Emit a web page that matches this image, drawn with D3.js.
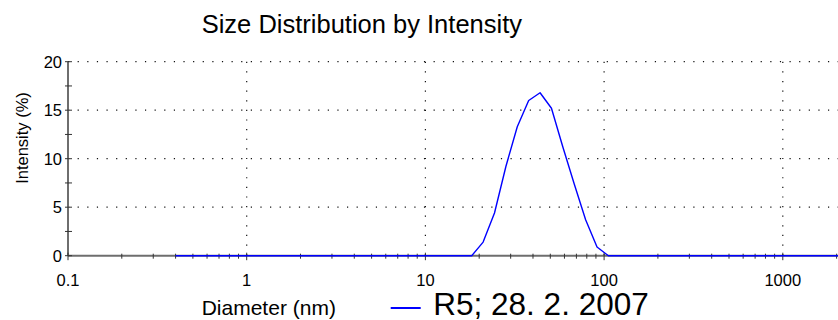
<!DOCTYPE html>
<html>
<head>
<meta charset="utf-8">
<script src="https://cdn.jsdelivr.net/npm/d3@7"></script>
<style>
  html, body { margin: 0; padding: 0; background: #fff; }
  svg { display: block; font-family: "Liberation Sans", Arial, sans-serif; }
</style>
</head>
<body>
<svg id="chart" width="838" height="320"></svg>
<script>
// Size classes (nm) of the DLS measurement
const sizes = [
  0.4, 0.4632, 0.5365, 0.6213, 0.7195, 0.8332, 0.9649, 1.117, 1.294, 1.499,
  1.736, 2.01, 2.328, 2.696, 3.122, 3.615, 4.187, 4.849, 5.615, 6.503,
  7.531, 8.721, 10.1, 11.7, 13.54, 15.69, 18.17, 21.04, 24.36, 28.21,
  32.67, 37.84, 43.82, 50.75, 58.77, 68.06, 78.82, 91.28, 105.7, 122.4,
  141.8, 164.2, 190.1, 220.2, 255.0, 295.3, 342.0, 396.1, 458.7, 531.2,
  615.1, 712.4, 825.0, 955.4, 1106, 1281, 1484, 1718, 1990, 2305,
  2669, 3091, 3580, 4145, 4801, 5560, 6439, 7456, 8635, 10000
];
// Intensity (%) per size class
const intensity = [
  0, 0, 0, 0, 0, 0, 0, 0, 0, 0,
  0, 0, 0, 0, 0, 0, 0, 0, 0, 0,
  0, 0, 0, 0, 0, 0, 0, 1.4, 4.4, 9.2,
  13.3, 16.0, 16.8, 15.2, 11.2, 7.4, 3.7, 0.9, 0, 0,
  0, 0, 0, 0, 0, 0, 0, 0, 0, 0,
  0, 0, 0, 0, 0, 0, 0, 0, 0, 0,
  0, 0, 0, 0, 0, 0, 0, 0, 0, 0
];
const xTickValues = [0.1, 1, 10, 100, 1000];
const xTickLabels = ["0.1", "1", "10", "100", "1000"];
const yTickValues = [0, 5, 10, 15, 20];
const seriesName = "R5; 28. 2. 2007";
const titleText = "Size Distribution by Intensity";
const xLabel = "Diameter (nm)";
const yLabel = "Intensity (%)";

const svg = d3.select("#chart");
const x = d3.scaleLog().domain([0.1, 10000]).range([68, 68 + 5 * 178.7]);
const y = d3.scaleLinear().domain([0, 20]).range([255.7, 61.7]);

// minor ticks: 2..9 within every decade
const xMinor = [];
for (let p = -1; p < 4; p++) {
  for (let m = 2; m <= 9; m++) xMinor.push(+(m * Math.pow(10, p)).toPrecision(3));
}
const yMinor = d3.range(0, 20.01, 2.5).filter(v => v % 5 !== 0);

// dotted grid
const grid = svg.append("g").attr("stroke", "#111").attr("stroke-width", 1.2)
  .attr("stroke-dasharray", "1.2 8.42").attr("fill", "none");
grid.selectAll("line.h").data(yTickValues.filter(v => v > 0)).join("line")
  .attr("class", "h")
  .attr("x1", x(0.1)).attr("x2", 838)
  .attr("y1", d => y(d)).attr("y2", d => y(d));
grid.selectAll("line.v").data(xTickValues.filter(v => v > 0.1)).join("line")
  .attr("class", "v")
  .attr("x1", d => x(d)).attr("x2", d => x(d))
  .attr("y1", y(20)).attr("y2", y(0));

// axes lines
const axisColor = "#6e6e6e";
svg.append("line").attr("x1", x(0.1)).attr("x2", 838).attr("y1", y(0)).attr("y2", y(0))
  .attr("stroke", axisColor).attr("stroke-width", 2);
svg.append("line").attr("x1", x(0.1)).attr("x2", x(0.1)).attr("y1", y(20)).attr("y2", y(0))
  .attr("stroke", axisColor).attr("stroke-width", 2);

// x ticks
const tickG = svg.append("g").attr("stroke", "#333").attr("stroke-width", 1);
tickG.selectAll("line.xmaj").data(xTickValues).join("line").attr("class", "xmaj")
  .attr("x1", d => x(d)).attr("x2", d => x(d))
  .attr("y1", y(0) - 3).attr("y2", y(0) + 4.5);
tickG.selectAll("line.xmin").data(xMinor).join("line").attr("class", "xmin")
  .attr("x1", d => x(d)).attr("x2", d => x(d))
  .attr("y1", y(0) - 2).attr("y2", y(0) + 3);
// y ticks
tickG.selectAll("line.ymaj").data(yTickValues.concat(yMinor)).join("line").attr("class", "ymaj")
  .attr("x1", x(0.1) - 3).attr("x2", x(0.1) + 4)
  .attr("y1", d => y(d)).attr("y2", d => y(d));

// tick labels
svg.append("g").attr("font-size", 16.5).attr("fill", "#000").attr("text-anchor", "middle")
  .selectAll("text").data(xTickValues).join("text")
  .attr("x", d => x(d)).attr("y", 285.7)
  .text((d, i) => xTickLabels[i]);
svg.append("g").attr("font-size", 16.5).attr("fill", "#000").attr("text-anchor", "end")
  .selectAll("text").data(yTickValues).join("text")
  .attr("x", 62).attr("y", d => y(d)).attr("dy", "0.36em")
  .text(d => d);

// data line
const line = d3.line().x((d, i) => x(sizes[i])).y(d => y(d));
svg.append("path").datum(intensity)
  .attr("d", line).attr("fill", "none")
  .attr("stroke", "#0000ff").attr("stroke-width", 1.4).attr("stroke-linejoin", "round");

// titles
svg.append("text").attr("x", 201.7).attr("y", 33.3).attr("font-size", 25.5)
  .attr("fill", "#000").text(titleText);
svg.append("text").attr("x", 201.7).attr("y", 315.3).attr("font-size", 21)
  .attr("fill", "#000").text(xLabel);
svg.append("text").attr("transform", "translate(27.5,138) rotate(-90)")
  .attr("text-anchor", "middle").attr("font-size", 16.5).attr("fill", "#000").text(yLabel);

// legend
svg.append("line").attr("x1", 390.7).attr("x2", 420.7).attr("y1", 308).attr("y2", 308)
  .attr("stroke", "#0000ff").attr("stroke-width", 2);
svg.append("text").attr("x", 433.3).attr("y", 315).attr("font-size", 31.5)
  .attr("fill", "#000").text(seriesName);
</script>
</body>
</html>
